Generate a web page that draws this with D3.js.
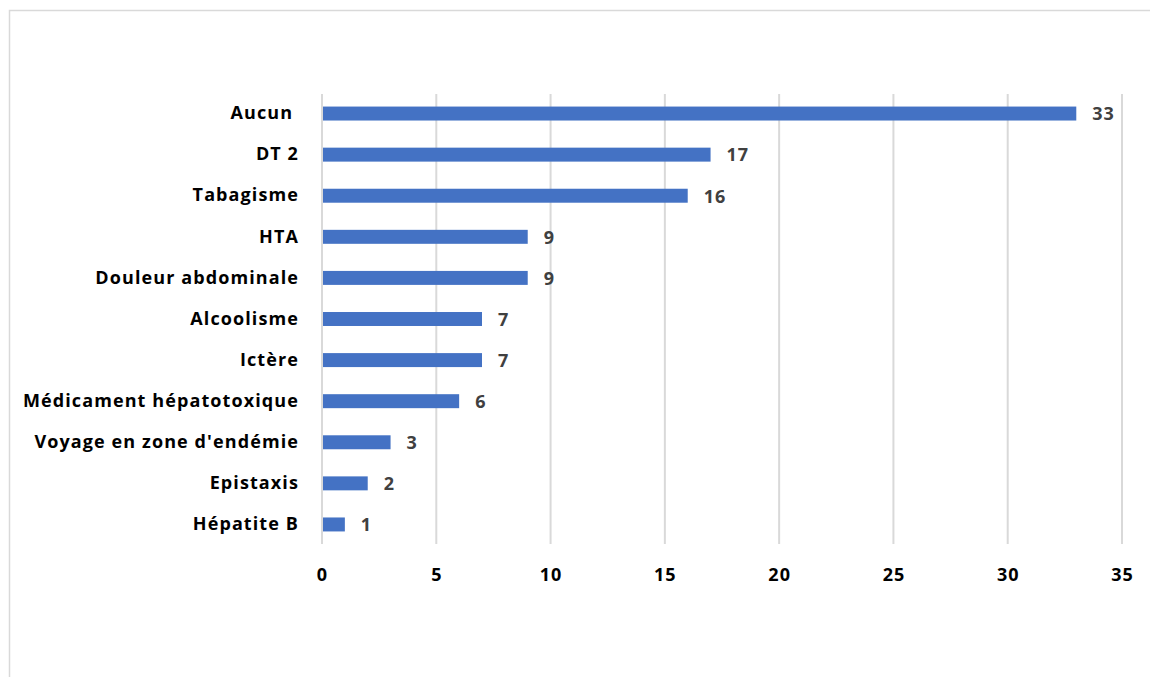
<!DOCTYPE html>
<html>
<head>
<meta charset="utf-8">
<script src="https://cdn.jsdelivr.net/npm/d3@7"></script>
<style>
  body { margin: 0; background: #fff; }
  text { font-family: "Open Sans", "Liberation Sans", sans-serif; font-weight: bold; white-space: pre; }
</style>
</head>
<body>
<svg id="chart" width="1150" height="677"></svg>
<script>
var categories = ["Aucun ", "DT 2", "Tabagisme", "HTA", "Douleur abdominale", "Alcoolisme",
  "Ictère", "Médicament hépatotoxique", "Voyage en zone d'endémie", "Epistaxis", "Hépatite B"];
var values = [33, 17, 16, 9, 9, 7, 7, 6, 3, 2, 1];
var xTicks = [0, 5, 10, 15, 20, 25, 30, 35];

var svg = d3.select('#chart');

// chart frame (only top and left edges visible)
svg.append('path')
  .attr('d', 'M9.5,677V10.5H1150')
  .attr('fill', 'none').attr('stroke', '#d9d9d9').attr('stroke-width', 1.5);

var x = d3.scaleLinear().domain([0, 35]).range([322, 1122]);
var y = d3.scaleBand().domain(categories).range([93, 545]).paddingInner(0.66).paddingOuter(0.33);

// gridlines
svg.append('g').selectAll('line').data(xTicks).enter().append('line')
  .attr('x1', function(d) { return x(d); }).attr('x2', function(d) { return x(d); })
  .attr('y1', 94).attr('y2', 544)
  .attr('stroke', '#d9d9d9').attr('stroke-width', 2);

var xAxis = svg.append('g').attr('transform', 'translate(0,544)')
  .call(d3.axisBottom(x).tickValues(xTicks).tickSize(0).tickPadding(24));
xAxis.select('.domain').remove();
xAxis.selectAll('text').attr('font-size', 18).attr('fill', '#000')
  .style('font-family', '"Open Sans", sans-serif').style('letter-spacing', '1px');

var yAxis = svg.append('g').attr('transform', 'translate(299,0)')
  .call(d3.axisLeft(y).tickSize(0).tickPadding(0));
yAxis.select('.domain').remove();
yAxis.selectAll('text').attr('font-size', 18).attr('fill', '#000')
  .style('font-family', '"Open Sans", sans-serif').style('letter-spacing', '1.1px');

svg.append('g').selectAll('rect').data(values).enter().append('rect')
  .attr('x', x(0) + 1)
  .attr('y', function(d, i) { return y(categories[i]); })
  .attr('width', function(d) { return x(d) - x(0) - 1; })
  .attr('height', y.bandwidth())
  .attr('fill', '#4472c4');

svg.append('g').selectAll('text').data(values).enter().append('text')
  .attr('x', function(d) { return x(d) + 16; })
  .attr('y', function(d, i) { return y(categories[i]) + y.bandwidth() / 2; })
  .attr('dy', '0.38em')
  .attr('font-size', 18)
  .attr('fill', '#404040')
  .style('letter-spacing', '1px')
  .text(function(d) { return d; });
</script>
</body>
</html>
